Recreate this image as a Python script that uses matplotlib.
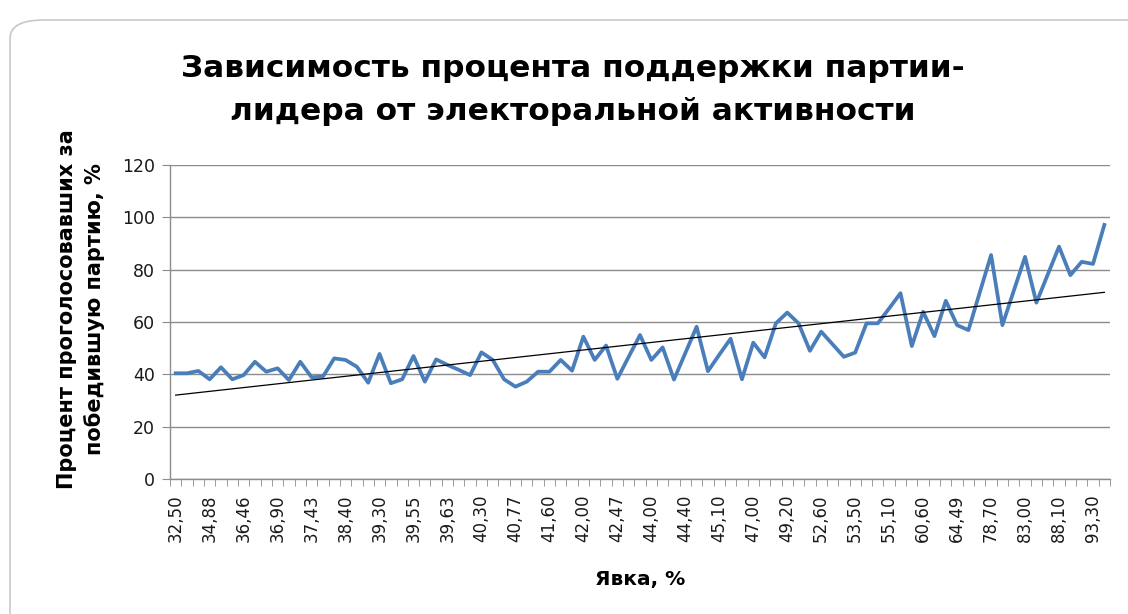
import numpy as np
import matplotlib.pyplot as plt
from matplotlib.patches import FancyBboxPatch

# Tick labels shown on the category axis (every third category)
turnout_labels = ['32,50', '34,88', '36,46', '36,90', '37,43', '38,40', '39,30',
                  '39,55', '39,63', '40,30', '40,77', '41,60', '42,00', '42,47',
                  '44,00', '44,40', '45,10', '47,00', '49,20', '52,60', '53,50',
                  '55,10', '60,60', '64,49', '78,70', '83,00', '88,10', '93,30']

# Percent voted for the winning party, one value per category
support = [40.4, 40.4, 41.3, 38.1, 42.7, 38.1, 39.7, 44.8, 41.0, 42.3,
           37.8, 44.8, 38.9, 39.1, 46.1, 45.5, 42.9, 36.8, 47.8, 36.6,
           38.1, 47.0, 37.2, 45.7, 43.6, 41.7, 39.7, 48.4, 45.5, 38.1,
           35.3, 37.2, 41.0, 41.0, 45.5, 41.4, 54.4, 45.5, 51.0, 38.3,
           46.7, 55.0, 45.5, 50.3, 38.0, 48.1, 58.2, 41.2, 47.5, 53.6,
           38.1, 52.1, 46.5, 59.5, 63.6, 59.5, 49.0, 56.3, 51.5, 46.7,
           48.3, 59.5, 59.5, 65.2, 71.0, 50.8, 63.9, 54.6, 68.1, 58.8,
           56.9, 71.3, 85.6, 58.8, 71.9, 84.9, 67.4, 78.1, 88.8, 77.9,
           83.0, 82.2, 97.1]

x = np.arange(len(support))
slope, intercept = np.polyfit(x, support, 1)
trend = slope * x + intercept

plt.rcParams['font.family'] = ['DejaVu Sans']
fig = plt.figure(figsize=(11.28, 6.14), dpi=100)

# Chart frame (rounded border like the Excel chart area)
frame = FancyBboxPatch((10 / 1128, -0.05), 1.2, 1.05 - 20 / 614,
                       boxstyle="round,pad=0,rounding_size=0.03",
                       transform=fig.transFigure, facecolor='white',
                       edgecolor='#c8c8c8', linewidth=1.2, zorder=-10)
fig.patches.append(frame)

ax = fig.add_axes([170 / 1128, 1 - 479 / 614, 940 / 1128, 314 / 614])
ax.set_facecolor('none')
ax.set_zorder(2)

ax.plot(x, support, color='#4A7EBB', linewidth=2.7, solid_joinstyle='round', zorder=3)
ax.plot(x, trend, color='black', linewidth=0.9, zorder=4)

ax.set_xlim(-0.5, len(support) - 0.5)
ax.set_ylim(0, 120)
ax.set_yticks(np.arange(0, 121, 20))
ax.yaxis.grid(True, color='#8c8c8c', linewidth=1)
ax.set_axisbelow(True)

ax.set_xticks(x[::3])
ax.set_xticklabels(turnout_labels, rotation=90, fontsize=12)
ax.set_xticks(np.arange(-0.5, len(support), 1), minor=True)
ax.tick_params(axis='x', which='major', length=0, pad=11, colors='#1a1a1a')
ax.tick_params(axis='x', which='minor', length=5, color='#8c8c8c', direction='out')
ax.tick_params(axis='y', length=6, color='#8c8c8c', labelsize=12.5, pad=5,
               labelcolor='#1a1a1a')

for s in ['top', 'right']:
    ax.spines[s].set_visible(False)
for s in ['left', 'bottom']:
    ax.spines[s].set_color('#8c8c8c')
    ax.spines[s].set_linewidth(1)

ax.set_xlabel('Явка, %', fontsize=14.5, fontweight='bold', labelpad=20)
ax.set_ylabel('Процент проголосовавших за\nпобедившую партию, %', fontsize=15,
              fontweight='bold', linespacing=1.45)
ax.yaxis.set_label_coords(-0.069, 0.54)

fig.text(0.508, 1 - 90 / 614, 'Зависимость процента поддержки партии-\nлидера от электоральной активности',
         ha='center', va='center', fontsize=22.5, fontweight='bold', linespacing=1.65)

fig.savefig('out.png', dpi=100)
